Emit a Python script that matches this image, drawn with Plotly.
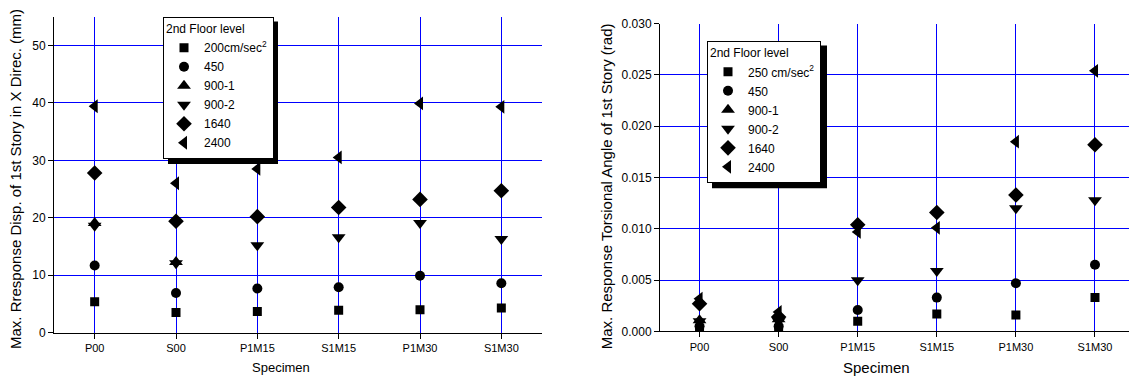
import plotly.graph_objects as go

specimens = ["P00", "S00", "P1M15", "S1M15", "P1M30", "S1M30"]
xpos = list(range(len(specimens)))

levels_left = ["200cm/sec<sup>2</sup>", "450", "900-1", "900-2", "1640", "2400"]
levels_right = ["250 cm/sec<sup>2</sup>", "450", "900-1", "900-2", "1640", "2400"]
symbols = ["square", "circle", "triangle-up", "triangle-down", "diamond", "triangle-left"]
sizes = [9, 10, 12, 12, 12, 12]

# Max. response displacement of 1st story in X direction (mm)
disp_200 = [5.4, 3.5, 3.7, 3.9, 4.0, 4.3]
disp_450 = [11.7, 6.9, 7.7, 7.9, 9.9, 8.6]
disp_900_1 = [19.1, 12.3, None, None, None, None]
disp_900_2 = [18.6, 12.1, 15.2, 16.6, 19.1, 16.3]
disp_1640 = [27.8, 19.4, 20.2, 21.8, 23.2, 24.7]
disp_2400 = [39.4, 26.0, 28.5, 30.5, 39.9, 39.3]

# Max. response torsional angle of 1st story (rad)
tors_250 = [0.0003, 0.0003, 0.0010, 0.0017, 0.0016, 0.0033]
tors_450 = [0.0005, 0.0005, 0.0021, 0.0033, 0.0047, 0.0065]
tors_900_1 = [0.0011, 0.0012, None, None, None, None]
tors_900_2 = [0.0010, 0.0010, 0.0050, 0.0059, 0.0120, 0.0128]
tors_1640 = [0.0027, 0.0014, 0.0104, 0.0116, 0.0133, 0.0182]
tors_2400 = [0.0032, 0.0019, 0.0097, 0.0101, 0.0185, 0.0254]

disp_series = [disp_200, disp_450, disp_900_1, disp_900_2, disp_1640, disp_2400]
tors_series = [tors_250, tors_450, tors_900_1, tors_900_2, tors_1640, tors_2400]

W, H = 1129, 385
FONT = "Liberation Sans, Arial, sans-serif"

fig = go.Figure()

def add_series(names, series, xa, ya, leg):
    for name, sym, sz, ys in zip(names, symbols, sizes, series):
        xs = [x for x, y in zip(xpos, ys) if y is not None]
        yv = [y for y in ys if y is not None]
        fig.add_trace(go.Scatter(x=xs, y=yv, mode="markers", name=name,
                                 marker=dict(symbol=sym, size=sz, color="black", line=dict(width=0)),
                                 xaxis=xa, yaxis=ya, legend=leg))

add_series(levels_left, disp_series, "x", "y", "legend")
add_series(levels_right, tors_series, "x2", "y2", "legend2")

def px_x(p):
    return p / W

def px_y(p):
    return 1 - p / H

L_dom_x = [px_x(54), px_x(542)]
L_dom_y = [px_y(338), px_y(10)]
R_dom_x = [px_x(660), 1.0]
R_dom_y = [px_y(336.7), px_y(17.3)]
L_range = [-0.5, 5.5]
R_range = [-0.5, 5.43]

grid_col = "#0000ff"

def main_x(dom, anchor, rng):
    return dict(domain=dom, anchor=anchor, range=rng,
                tickmode="array", tickvals=xpos, ticktext=specimens,
                showgrid=True, gridcolor=grid_col, gridwidth=1,
                zeroline=False, showline=True, linecolor="black", linewidth=1,
                ticks="outside", ticklen=5, tickcolor="black",
                tickfont=dict(size=11, family=FONT))

def tick_overlay(over, anchor, rng, side, ticks, ticklen, dtick, tick0):
    return dict(overlaying=over, anchor=anchor, side=side, range=rng,
                tickmode="linear", dtick=dtick, tick0=tick0,
                ticks=ticks, ticklen=ticklen, tickcolor="black",
                showticklabels=False, showgrid=False, zeroline=False,
                showline=True, linecolor="black", linewidth=1)

fig.update_layout(
    width=W, height=H,
    margin=dict(l=0, r=0, t=0, b=0),
    paper_bgcolor="white", plot_bgcolor="white",
    font=dict(family=FONT, color="black", size=12),
    hovermode=False,
    xaxis=main_x(L_dom_x, "y", L_range),
    yaxis=dict(domain=L_dom_y, anchor="x", range=[0, 55], dtick=10, tick0=0,
               showgrid=True, gridcolor=grid_col, gridwidth=1, zeroline=False,
               showline=True, linecolor="black", linewidth=1,
               ticks="outside", ticklen=5, tickcolor="black",
               tickfont=dict(size=12, family=FONT)),
    # minor ticks (bottom / left) and mirrored inward ticks (top / right)
    xaxis3=tick_overlay("x", "y", L_range, "top", "inside", 4, 0.5, 0),
    xaxis5=tick_overlay("x", "y", L_range, "bottom", "outside", 3, 1, 0.5),
    yaxis3=tick_overlay("y", "x", [0, 55], "right", "inside", 4, 5, 0),
    yaxis5=tick_overlay("y", "x", [0, 55], "left", "outside", 3, 10, 5),
    xaxis2=main_x(R_dom_x, "y2", R_range),
    yaxis2=dict(domain=R_dom_y, anchor="x2", range=[0, 0.030], dtick=0.005, tick0=0,
                tickformat=".3f",
                showgrid=True, gridcolor=grid_col, gridwidth=1, zeroline=False,
                showline=True, linecolor="black", linewidth=1,
                ticks="outside", ticklen=5, tickcolor="black",
                tickfont=dict(size=12, family=FONT)),
    xaxis4=tick_overlay("x2", "y2", R_range, "top", "inside", 4, 0.5, 0),
    xaxis6=tick_overlay("x2", "y2", R_range, "bottom", "outside", 3, 1, 0.5),
    yaxis6=tick_overlay("y2", "x2", [0, 0.030], "left", "outside", 3, 0.005, 0.0025),
    legend=dict(x=px_x(163), y=px_y(10), xanchor="left", yanchor="top",
                bgcolor="white", bordercolor="black", borderwidth=1,
                itemwidth=30,
                font=dict(size=12, family=FONT),
                title=dict(text="2nd Floor level", font=dict(size=12, family=FONT))),
    legend2=dict(x=px_x(707), y=px_y(35), xanchor="left", yanchor="top",
                 bgcolor="white", bordercolor="black", borderwidth=1,
                 itemwidth=30,
                 font=dict(size=12, family=FONT),
                 title=dict(text="2nd Floor level", font=dict(size=12, family=FONT))),
    showlegend=True,
)

# legend drop shadows
for (x0, y0, w, h) in [(163, 10, 110, 148), (707, 35, 115, 148)]:
    fig.add_shape(type="rect", xref="paper", yref="paper", layer="above",
                  x0=px_x(x0 + 5), x1=px_x(x0 + w + 5),
                  y0=px_y(y0 + h + 5), y1=px_y(y0 + 5),
                  fillcolor="black", line=dict(width=0))

annots = [
    dict(text="Max. Rresponse Disp. of 1st Story in X Direc. (mm)", x=px_x(15.5), y=px_y(179),
         textangle=-90, font=dict(size=15)),
    dict(text="Max. Response Torsional Angle of 1st Story (rad)", x=px_x(606), y=px_y(186),
         textangle=-90, font=dict(size=15)),
    dict(text="Specimen", x=px_x(281), y=px_y(374), font=dict(size=13)),
    dict(text="Specimen", x=px_x(876), y=px_y(374), font=dict(size=15)),
]
for a in annots:
    fig.add_annotation(xref="paper", yref="paper", showarrow=False,
                       xanchor="center", yanchor="middle", **a)

fig.write_html("out.html")
